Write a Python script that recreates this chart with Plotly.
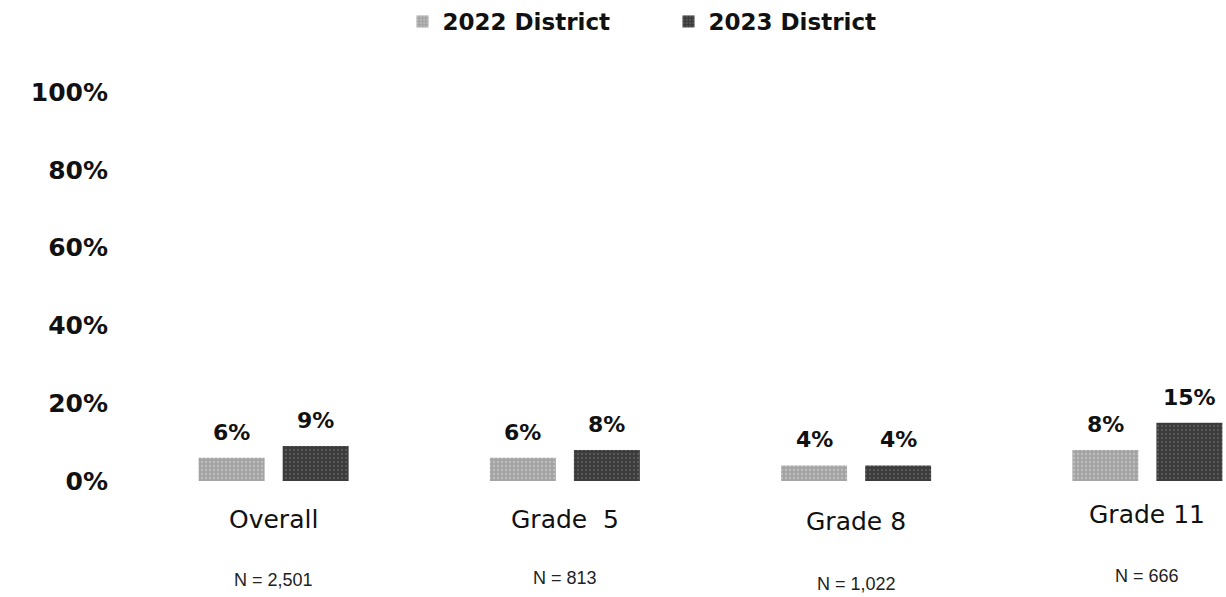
import plotly.graph_objects as go

# Survey results by group
categories = ["Overall", "Grade  5", "Grade 8", "Grade 11"]
district_2022 = [0.06, 0.06, 0.04, 0.08]
district_2023 = [0.09, 0.08, 0.04, 0.15]
sample_sizes = ["N = 2,501", "N = 813", "N = 1,022", "N = 666"]
y_ticks = [0, 0.2, 0.4, 0.6, 0.8, 1.0]
y_tick_labels = ["0%", "20%", "40%", "60%", "80%", "100%"]

FONT = "DejaVu Sans"
COLOR_2022 = "#a3a3a3"
COLOR_2023 = "#3c3c3c"

fig = go.Figure()
fig.add_trace(go.Bar(
    name="2022 District", x=categories, y=district_2022,
    marker=dict(color=COLOR_2022, line=dict(width=0),
                pattern=dict(shape=".", fgcolor="#dcdcdc", size=4, solidity=0.25)),
))
fig.add_trace(go.Bar(
    name="2023 District", x=categories, y=district_2023,
    marker=dict(color=COLOR_2023, line=dict(width=0),
                pattern=dict(shape=".", fgcolor="#8a8a8a", size=4, solidity=0.2)),
))

# Value labels above each bar
for vals, shift in ((district_2022, -42), (district_2023, 42)):
    for cat, v in zip(categories, vals):
        fig.add_annotation(
            x=cat, y=v, text=f"<b>{round(v * 100)}%</b>", showarrow=False,
            xshift=shift, yshift=11, yanchor="bottom",
            font=dict(family=FONT, size=22, color="#111111"),
        )

# Category names and sample sizes below the axis
label_shift = [-38, -38, -40, -33]
n_shift = [-99, -97, -103, -95]
for cat, n, ls, ns in zip(categories, sample_sizes, label_shift, n_shift):
    fig.add_annotation(
        x=cat, y=0, yref="y", text=cat, showarrow=False,
        yanchor="middle", yshift=ls,
        font=dict(family=FONT, size=25, color="#111111"),
    )
    fig.add_annotation(
        x=cat, y=0, yref="y", text=n, showarrow=False,
        yanchor="middle", yshift=ns,
        font=dict(family="Liberation Sans Narrow, Liberation Sans, Arial", size=18, color="#222222"),
    )

fig.update_layout(
    width=1226, height=597,
    margin=dict(l=128, r=0, t=92, b=116),
    paper_bgcolor="white", plot_bgcolor="white",
    barmode="group", bargap=0.423, bargroupgap=0.215,
    showlegend=True,
    legend=dict(orientation="h", x=0.25, xanchor="left", y=1.0, yref="container",
                yanchor="top",
                font=dict(family=FONT, size=23, color="#111111", weight="bold"),
                itemwidth=30, entrywidth=221, entrywidthmode="pixels",
                tracegroupgap=0),
    xaxis=dict(range=[-0.5, 3.27], showticklabels=False, showgrid=False,
               zeroline=False, showline=False, fixedrange=True),
    yaxis=dict(range=[0, 1.0], tickvals=y_ticks,
               ticktext=[f"<b>{t}</b>" for t in y_tick_labels],
               showgrid=False, zeroline=False, showline=False,
               ticks="outside", ticklen=14, tickcolor="white",
               tickfont=dict(family=FONT, size=25, color="#111111")),
)

fig.write_html("out.html")
